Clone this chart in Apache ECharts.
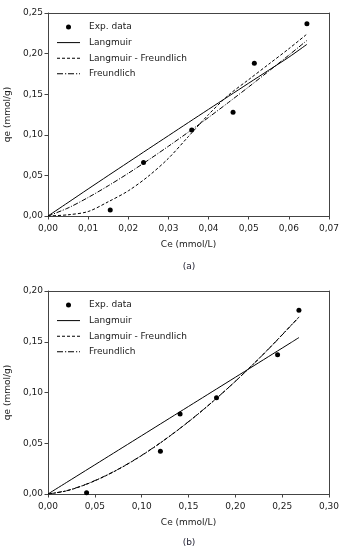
<!DOCTYPE html>
<html><head><meta charset="utf-8">
<script src="https://cdn.jsdelivr.net/npm/echarts@6/dist/echarts.min.js"></script>
<style>html,body{margin:0;padding:0;background:#fff}#c{width:350px;height:552px}</style>
</head><body><div id="c"></div>
<script>
// ---- Data (a)
const expCeA = [0.0155, 0.0238, 0.0358, 0.0461, 0.0514, 0.0645];
const expQeA = [0.0075, 0.0660, 0.1058, 0.1277, 0.1880, 0.2368];
const fitCeA = [0, 0.005, 0.01, 0.015, 0.02, 0.025, 0.03, 0.035, 0.04, 0.045, 0.05, 0.055, 0.06, 0.0645];
const langmuirA = [0, 0.0166, 0.0333, 0.0498, 0.0662, 0.0826, 0.0989, 0.1152, 0.1314, 0.1475, 0.1636, 0.1796, 0.1956, 0.2114];
const langFreundA = [0, 0.0015, 0.0055, 0.0175, 0.031, 0.049, 0.071, 0.098, 0.125, 0.149, 0.168, 0.187, 0.206, 0.224];
const freundA = [0, 0.0099, 0.0228, 0.0372, 0.0526, 0.0689, 0.0859, 0.1034, 0.1214, 0.1400, 0.1590, 0.1784, 0.1981, 0.2162];
// ---- Data (b)
const expCeB = [0.0412, 0.1200, 0.1410, 0.1799, 0.2451, 0.2679];
const expQeB = [0.0013, 0.0422, 0.0789, 0.0949, 0.1371, 0.1810];
const fitCeB = [0, 0.02, 0.04, 0.06, 0.08, 0.10, 0.12, 0.14, 0.16, 0.18, 0.20, 0.22, 0.24, 0.26, 0.268];
const langmuirB = [0, 0.0115, 0.0230, 0.0345, 0.0460, 0.0575, 0.0690, 0.0805, 0.0920, 0.1035, 0.1150, 0.1265, 0.1380, 0.1495, 0.1542];
const langFreundB = [0, 0.0031, 0.0092, 0.0172, 0.0268, 0.0379, 0.0503, 0.0639, 0.0786, 0.0943, 0.1110, 0.1287, 0.1473, 0.1667, 0.1745];
const freundB = [0, 0.0033, 0.0094, 0.0174, 0.0270, 0.0381, 0.0505, 0.0641, 0.0787, 0.0944, 0.1110, 0.1286, 0.1471, 0.1665, 0.1742];
const seriesNames = ['Exp. data', 'Langmuir', 'Langmuir - Freundlich', 'Freundlich'];
const captions = ['(a)', '(b)'];
const xLabel = 'Ce (mmol/L)';
const yLabel = 'qe (mmol/g)';

const FONT = 'DejaVu Sans';
const TXT = '#1a1a1a';
const AX = '#444';
const zip = (a, b) => a.map((v, i) => [v, b[i]]);
const fmt = v => v.toFixed(2).replace('.', ',');

// legend icons (23 x 5 box, line drawn at mid-height)
const BOX = 'M0,0M23,5';
const ICONS = [
  'circle',
  'path://' + BOX + 'M0,2h23v1h-23z',
  'path://' + BOX + 'M0,2h3v1h-3zM5,2h3v1h-3zM10,2h3v1h-3zM15,2h3v1h-3zM20,2h3v1h-3z',
  'path://' + BOX + 'M0,2h6v1h-6zM8,2h1.2v1h-1.2zM11,2h6v1h-6zM19,2h1.2v1h-1.2zM22,2h1v1h-1z'
];

function xAxis(gi, max, interval) {
  return {
    gridIndex: gi, type: 'value', min: 0, max: max, interval: interval,
    name: xLabel, nameLocation: 'middle', nameGap: 24,
    nameTextStyle: {fontFamily: FONT, fontSize: 9, color: TXT},
    axisLine: {onZero: false, lineStyle: {color: AX, width: 1}},
    axisTick: {length: 3.5, lineStyle: {color: AX}},
    axisLabel: {fontFamily: FONT, fontSize: 9, color: TXT, margin: 8, formatter: fmt},
    splitLine: {show: false}
  };
}
function xAxisTop(gi, max) {
  return {gridIndex: gi, type: 'value', min: 0, max: max, position: 'top',
    axisLine: {onZero: false, lineStyle: {color: AX, width: 1}}, axisTick: {show: false}, axisLabel: {show: false}, splitLine: {show: false}};
}
function yAxis(gi, max) {
  return {
    gridIndex: gi, type: 'value', min: 0, max: max, interval: 0.05,
    name: yLabel, nameLocation: 'middle', nameGap: 35,
    nameTextStyle: {fontFamily: FONT, fontSize: 9, color: TXT},
    axisLine: {show: true, onZero: false, lineStyle: {color: AX, width: 1}},
    axisTick: {show: true, length: 3.5, lineStyle: {color: AX}},
    axisLabel: {fontFamily: FONT, fontSize: 9, color: TXT, margin: 5, formatter: fmt},
    splitLine: {show: false}
  };
}
function yAxisRight(gi, max) {
  return {gridIndex: gi, type: 'value', min: 0, max: max, position: 'right',
    axisLine: {show: true, onZero: false, lineStyle: {color: AX, width: 1}}, axisTick: {show: false}, axisLabel: {show: false}, splitLine: {show: false}};
}
function series(gi, ce, qe, fce, l, lf, f) {
  const xi = gi * 2, yi = gi * 2;
  const base = {xAxisIndex: xi, yAxisIndex: yi, type: 'line', smooth: 0.3, showSymbol: false, symbol: 'none', silent: true, animation: false};
  return [
    {name: seriesNames[0], type: 'scatter', xAxisIndex: xi, yAxisIndex: yi, symbol: 'circle', symbolSize: 5,
      itemStyle: {color: '#000', opacity: 1}, data: zip(ce, qe), animation: false},
    Object.assign({}, base, {name: seriesNames[1], data: zip(fce, l), lineStyle: {color: '#000', width: 1, type: 'solid'}, itemStyle: {color: '#000'}}),
    Object.assign({}, base, {name: seriesNames[2], data: zip(fce, lf), lineStyle: {color: '#000', width: 1, type: [3, 2]}, itemStyle: {color: '#000'}}),
    Object.assign({}, base, {name: seriesNames[3], data: zip(fce, f), lineStyle: {color: '#000', width: 1, type: [5, 1.6, 1, 1.6]}, itemStyle: {color: '#000'}})
  ];
}
function legend(top) {
  return {
    data: seriesNames.map((n, i) => ({name: n, icon: ICONS[i], itemStyle: {color: '#000', borderWidth: 0}})),
    orient: 'vertical', left: 57, top: top, padding: 0,
    itemWidth: 23, itemHeight: 5, itemGap: 5.6,
    textStyle: {fontFamily: FONT, fontSize: 9, color: TXT, lineHeight: 10, padding: [0, 0, 0, 4]},
    selectedMode: false
  };
}

const chart = echarts.init(document.getElementById('c'), null, {renderer: 'canvas'});
chart.setOption({
  animation: false,
  grid: [
    {left: 48, width: 281, top: 13, height: 203, containLabel: false, outerBoundsMode: 'none'},
    {left: 48, width: 281, top: 291, height: 203, containLabel: false, outerBoundsMode: 'none'}
  ],
  xAxis: [xAxis(0, 0.07, 0.01), xAxisTop(0, 0.07), xAxis(1, 0.30, 0.05), xAxisTop(1, 0.30)],
  yAxis: [yAxis(0, 0.25), yAxisRight(0, 0.25), yAxis(1, 0.20), yAxisRight(1, 0.20)],
  legend: [legend(22), legend(300)],
  title: [
    {text: captions[0], left: 184, top: 257, textAlign: 'center', textStyle: {fontFamily: FONT, fontSize: 9, fontWeight: 'normal', color: '#223'}},
    {text: captions[1], left: 184, top: 533, textAlign: 'center', textStyle: {fontFamily: FONT, fontSize: 9, fontWeight: 'normal', color: '#223'}}
  ],
  series: [].concat(
    series(0, expCeA, expQeA, fitCeA, langmuirA, langFreundA, freundA),
    series(1, expCeB, expQeB, fitCeB, langmuirB, langFreundB, freundB)
  )
});
</script></body></html>
